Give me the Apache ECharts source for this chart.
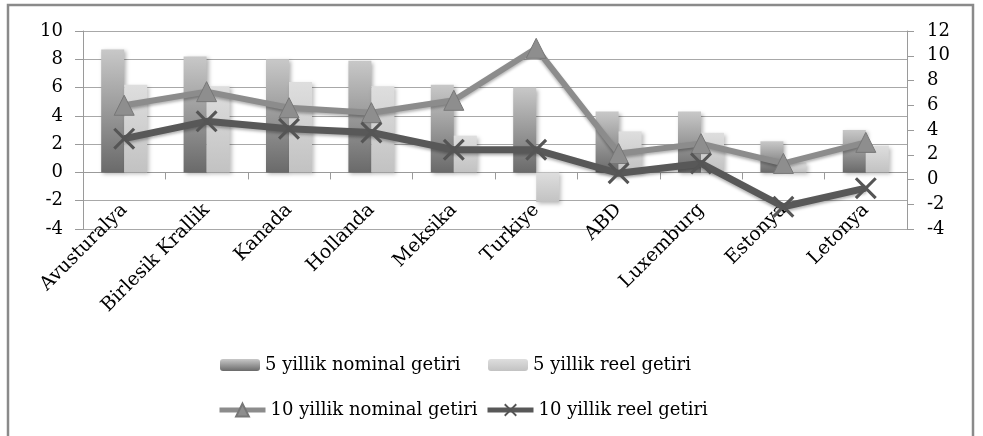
<!DOCTYPE html>
<html>
<head>
<meta charset="utf-8">
<script src="https://cdn.jsdelivr.net/npm/echarts@6/dist/echarts.min.js"></script>
<style>
    html, body { margin: 0; padding: 0; background: #fff; }
    #chart { width: 983px; height: 436px; }
</style>
</head>
<body>
<div id="chart"></div>
<script>
const chart = echarts.init(document.getElementById("chart"));

const countries = ["Avusturalya", "Birlesik Krallik", "Kanada", "Hollanda", "Meksika",
    "Turkiye", "ABD", "Luxemburg", "Estonya", "Letonya"];

const nominal5 = [8.7, 8.2, 8.0, 7.9, 6.2, 6.0, 4.3, 4.3, 2.2, 3.0];
const reel5 = [6.2, 6.1, 6.4, 6.1, 2.6, -2.1, 2.9, 2.8, 0.7, 1.9];
const nominal10 = [6.0, 7.1, 5.8, 5.4, 6.4, 10.6, 2.1, 2.9, 1.3, 3.0];
const reel10 = [3.3, 4.7, 4.1, 3.8, 2.4, 2.4, 0.5, 1.3, -2.2, -0.7];

const leftTicks = { min: -4, max: 10, step: 2 };
const rightTicks = { min: -4, max: 12, step: 2 };

const names = ["5 yillik nominal getiri", "5 yillik reel getiri",
    "10 yillik nominal getiri", "10 yillik reel getiri"];

const font = "DejaVu Serif";
const crossPath = "path://M0,1 L1,0 L10,9 L9,10 Z M9,0 L10,1 L1,10 L0,9 Z";

function grad(top, bottom) {
    return new echarts.graphic.LinearGradient(0, 0, 0, 1, [
        { offset: 0, color: top },
        { offset: 1, color: bottom }
    ]);
}

function legendAt(name, left, top, w, h) {
    return {
        data: [name],
        left: left,
        top: top,
        itemWidth: w,
        itemHeight: h,
        itemGap: 6,
        selectedMode: false,
        lineStyle: { width: 5 },
        textStyle: { fontFamily: font, fontSize: 18, color: "#000" }
    };
}

const option = {
    animation: false,
    graphic: [{
        type: "rect",
        shape: { x: 8, y: 5, width: 965, height: 460 },
        style: { fill: "none", stroke: "#8a8a8a", lineWidth: 2.5 },
        silent: true
    }],
    grid: { left: 83, right: 76, top: 31, bottom: 207 },
    legend: [
        legendAt(names[0], 215, 351, 40, 12),
        legendAt(names[1], 483, 351, 40, 12),
        legendAt(names[2], 212, 396, 46, 16),
        legendAt(names[3], 480, 396, 46, 16)
    ],
    xAxis: {
        type: "category",
        data: countries,
        axisLine: { onZero: true, onZeroAxisIndex: 0, lineStyle: { color: "#9a9a9a", width: 1 } },
        axisTick: { show: true, length: 7, lineStyle: { color: "#9a9a9a" } },
        axisLabel: {
            interval: 0,
            rotate: 45,
            margin: -22,
            fontFamily: font,
            fontSize: 19,
            color: "#000"
        }
    },
    yAxis: [
        {
            type: "value",
            position: "left",
            min: leftTicks.min,
            max: leftTicks.max,
            interval: leftTicks.step,
            axisLine: { show: true, lineStyle: { color: "#9a9a9a" } },
            axisTick: { show: true, length: 8, lineStyle: { color: "#9a9a9a" } },
            splitLine: { show: true, lineStyle: { color: "#a8a8a8", width: 1 } },
            axisLabel: { margin: 20, fontFamily: font, fontSize: 18, color: "#000" }
        },
        {
            type: "value",
            position: "right",
            min: rightTicks.min,
            max: rightTicks.max,
            interval: rightTicks.step,
            axisLine: { show: true, lineStyle: { color: "#9a9a9a" } },
            axisTick: { show: true, length: 7, lineStyle: { color: "#9a9a9a" } },
            splitLine: { show: false },
            axisLabel: { margin: 20, fontFamily: font, fontSize: 18, color: "#000" }
        }
    ],
    series: [
        {
            name: names[0],
            type: "bar",
            yAxisIndex: 0,
            barWidth: 23,
            barGap: "0%",
            data: nominal5,
            itemStyle: {
                color: grad("#c8c8c8", "#6a6a6a"),
                shadowBlur: 4,
                shadowColor: "rgba(0,0,0,0.3)",
                shadowOffsetX: 2,
                shadowOffsetY: 2
            }
        },
        {
            name: names[1],
            type: "bar",
            yAxisIndex: 0,
            barWidth: 23,
            barGap: "0%",
            data: reel5,
            itemStyle: {
                color: grad("#dedede", "#c2c2c2"),
                shadowBlur: 4,
                shadowColor: "rgba(0,0,0,0.25)",
                shadowOffsetX: 2,
                shadowOffsetY: 2
            }
        },
        {
            name: names[2],
            type: "line",
            yAxisIndex: 1,
            data: nominal10,
            symbol: "triangle",
            symbolSize: 20,
            lineStyle: { color: "#8c8c8c", width: 6, shadowBlur: 3, shadowColor: "rgba(0,0,0,0.3)", shadowOffsetY: 2 },
            itemStyle: { color: "#8e8e8e", borderColor: "#777", borderWidth: 1 },
            z: 3
        },
        {
            name: names[3],
            type: "line",
            yAxisIndex: 1,
            data: reel10,
            symbol: crossPath,
            symbolSize: 22,
            lineStyle: { color: "#585858", width: 7, shadowBlur: 3, shadowColor: "rgba(0,0,0,0.3)", shadowOffsetY: 2 },
            itemStyle: { color: "#555" },
            z: 4
        }
    ]
};

chart.setOption(option);
window.addEventListener("resize", () => chart.resize());
</script>
</body>
</html>
